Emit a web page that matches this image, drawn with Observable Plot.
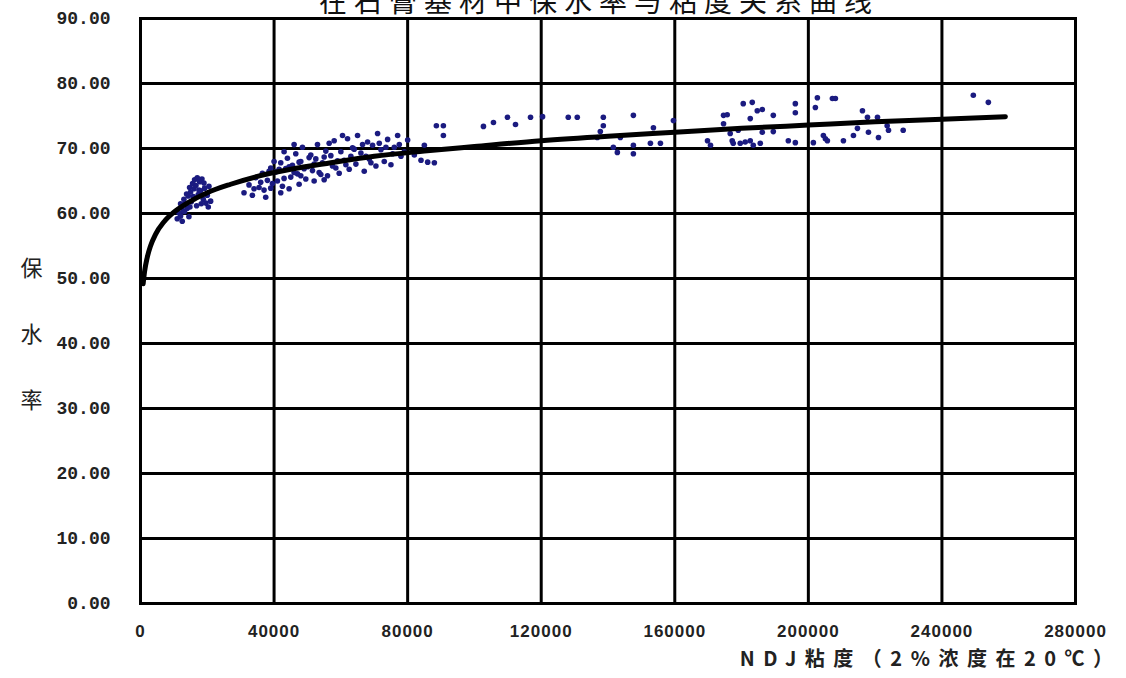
<!DOCTYPE html>
<html>
<head>
<meta charset="utf-8">
<script src="https://cdn.jsdelivr.net/npm/d3@7"></script>
<script src="https://cdn.jsdelivr.net/npm/@observablehq/plot@0.6"></script>
<style>
  html, body { margin: 0; padding: 0; background: #fff; }
  #wrap { position: relative; width: 1126px; height: 678px; overflow: hidden; background: #fff; }
  #title { position: absolute; top: -14px; left: 0; width: 1126px; box-sizing: border-box; padding-left: 72px;
           text-align: center; font-family: "Noto Sans CJK SC", sans-serif; font-size: 28px; line-height: 28px;
           letter-spacing: 7px; color: #111; z-index: 2; }
  #chart { position: absolute; top: 0; left: 0; }
</style>
</head>
<body>
<div id="wrap">
  <div id="title">在石膏基材中保水率与粘度关系曲线</div>
  <div id="chart"></div>
</div>
<script>
const titleText = "在石膏基材中保水率与粘度关系曲线";
const yLabelText = "保\n水\n率";
const xLabelText = "NDJ粘度（2%浓度在20℃）";
const xTicks = [0, 40000, 80000, 120000, 160000, 200000, 240000, 280000];
const yTicks = [0, 10, 20, 30, 40, 50, 60, 70, 80, 90];

// measured points: NDJ viscosity (mPa·s) and water retention (%)
const viscosity = [
  11000,11500,12000,12300,12800,13000,13400,13800,14000,14300,14700,15000,15200,15600,16000,16200,16600,17000,17300,17700,18000,18400,18800,19200,19600,20000,20500,21000,12500,14500,16800,
  13200,15800,17500,19000,14800,18200,20300,12000,
  31000,32500,33500,34500,35500,36500,37000,38000,39000,39500,40500,41000,42000,42500,43500,44000,45000,45500,46500,47000,48000,48500,49500,50000,51000,51500,52500,53000,54000,54500,55500,56000,57000,58000,58500,59500,60000,61000,62000,62500,63500,64500,65000,66000,67000,68000,68500,69500,70500,71000,72000,73000,74000,75000,76000,77000,78000,80000,82000,84000,85000,44500,47500,52000,37500,56500,60500,40000,43000,46000,86000,88000,
  36000,38500,41500,43000,44500,46000,47500,49000,50500,52000,53500,55000,57500,59000,61500,63000,64000,66500,67500,69000,71500,73500,75500,77500,79000,34000,39000,42000,48000,55000,
  88600,90700,90700,102700,105700,109900,112300,116800,120400,128100,130800,138600,138600,137700,147600,136800,141600,142800,147600,147600,152700,155700,153600,143700,159600,169800,170700,174600,174600,176600,177500,
  180500,183200,184700,182600,179600,182600,185600,175700,189500,196100,196100,194000,196100,201500,202700,207200,216200,217700,220700,221000,224000,228400,210500,213500,205100,
  202100,208100,186200,186200,189500,204500,205700,214700,218000,223600,179000,177200,181100,183500,
  249400,253900
];
const retention = [
  59.2,60.1,59.6,61.0,60.4,62.2,61.5,63.0,60.8,62.7,64.0,63.3,61.8,64.6,63.8,65.2,64.3,65.5,62.9,64.9,63.5,65.3,62.2,63.9,61.6,62.8,64.2,61.9,58.8,59.5,61.2,
  60.3,62.6,63.6,64.7,61.0,61.5,61.0,61.5,
  63.2,64.4,62.8,65.5,64.0,66.2,63.6,65.1,67.0,64.6,66.4,65.0,67.8,64.2,66.9,68.5,65.6,67.4,69.2,66.1,68.0,70.2,65.3,67.2,69.0,66.6,68.4,70.6,66.0,67.8,69.6,65.8,68.9,71.2,67.0,66.2,69.5,68.2,71.5,66.8,70.1,67.6,72.0,69.3,66.5,71.0,68.4,70.5,67.3,72.3,69.8,68.0,71.4,67.5,70.2,72.0,68.8,71.3,69.0,68.2,70.5,63.8,64.5,65.0,62.5,70.8,72.0,68.0,69.5,70.6,67.9,67.8,
  64.8,66.5,66.8,65.4,67.2,66.3,67.9,66.9,68.6,67.6,66.3,68.7,67.3,68.1,67.5,68.8,69.9,70.6,68.8,67.8,70.8,70.2,69.2,70.6,69.5,63.8,63.9,63.2,65.8,65.2,
  73.5,73.5,72.0,73.4,74.0,74.8,73.7,74.8,74.9,74.8,74.8,74.8,73.5,72.6,75.1,71.7,70.2,69.4,69.2,70.5,70.8,70.8,73.2,71.7,74.3,71.2,70.5,75.1,73.8,72.3,70.8,
  76.9,77.1,75.8,74.6,70.8,71.2,70.8,75.2,75.1,76.9,75.5,71.2,70.9,70.9,77.8,77.7,75.8,74.8,74.8,71.7,72.8,72.8,71.2,72.0,71.5,
  76.3,77.7,76.0,72.5,72.6,72.0,71.2,73.1,72.5,73.5,72.8,71.2,71.0,70.5,
  78.2,77.1
];

// fitted curve
const fitViscosity = [800,1200,2000,3000,4500,7000,10000,14000,20000,27000,35000,45000,57000,70000,85000,100000,120000,140000,160000,180000,200000,220000,240000,259000];
const fitRetention = [49.2,51.0,53.2,55.0,56.8,58.7,60.2,61.6,63.2,64.5,65.7,66.8,67.8,68.8,69.6,70.3,71.2,71.9,72.5,73.1,73.6,74.1,74.5,74.9];

const points = viscosity.map((v, i) => ({x: v, y: retention[i]}));
const fit = fitViscosity.map((v, i) => ({x: v, y: fitRetention[i]}));

const chart = Plot.plot({
  width: 1126,
  height: 678,
  marginLeft: 140,
  marginRight: 51,
  marginTop: 18,
  marginBottom: 75,
  style: {background: "#fff", fontFamily: "Liberation Sans, sans-serif"},
  x: {domain: [0, 280000]},
  y: {domain: [0, 90]},
  marks: [
    Plot.gridY(yTicks, {stroke: "#000", strokeOpacity: 1, strokeWidth: 3}),
    Plot.gridX(xTicks, {stroke: "#000", strokeOpacity: 1, strokeWidth: 3}),
    Plot.frame({stroke: "#000", strokeWidth: 3}),
    Plot.dot(points, {x: "x", y: "y", r: 2.8, fill: "#1b1b80", stroke: null}),
    Plot.line(fit, {x: "x", y: "y", stroke: "#000", strokeWidth: 5, curve: "monotone-x"}),
    Plot.axisY(yTicks, {tickSize: 0, tickPadding: 30, tickFormat: d => d.toFixed(2), label: null,
      fontFamily: "Liberation Mono, monospace", fontWeight: "bold", fontSize: 18, fill: "#222"}),
    Plot.axisX(xTicks, {tickSize: 0, tickPadding: 21, tickFormat: d => String(d), label: null,
      fontFamily: "Liberation Sans, sans-serif", fontWeight: "bold", fontSize: 17, fill: "#222"}),
    Plot.text([yLabelText], {frameAnchor: "left", dx: -120, dy: 10, text: d => d, fontSize: 22,
      lineHeight: 3, fontFamily: "Noto Sans CJK SC, sans-serif", fill: "#222"}),
    Plot.text([xLabelText], {frameAnchor: "bottom-right", textAnchor: "end", dx: 46, dy: 62, text: d => d,
      fontSize: 20, fontWeight: "bold", fontFamily: "Noto Sans CJK SC, sans-serif", fill: "#222"})
  ]
});
document.getElementById("chart").appendChild(chart);
d3.select(chart).selectAll("text").filter(function() { return this.textContent === xLabelText; })
  .style("letter-spacing", "8.5px");
d3.select(chart).selectAll("g[aria-label='x-axis tick label'] text").style("letter-spacing", "1px");
</script>
</body>
</html>
